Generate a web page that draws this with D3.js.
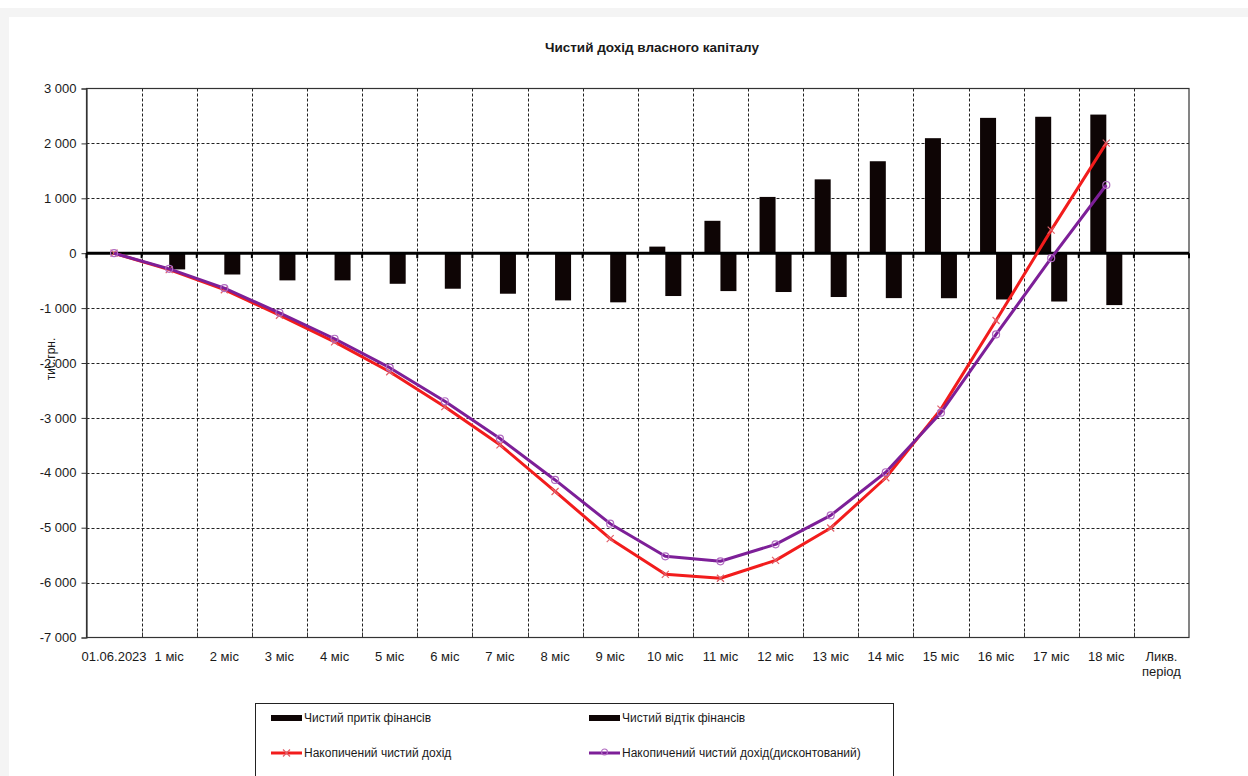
<!DOCTYPE html>
<html>
<head>
<meta charset="utf-8">
<script src="https://cdn.jsdelivr.net/npm/d3@7"></script>
<style>
  body { margin: 0; background: #fff; }
  svg { display: block; font-family: "Liberation Sans", Arial, sans-serif; }
</style>
</head>
<body>
<svg id="chart" width="1248" height="776"></svg>
<script>
// Periods of the project
const categories = ["01.06.2023", "1 міс", "2 міс", "3 міс", "4 міс", "5 міс", "6 міс", "7 міс", "8 міс", "9 міс",
  "10 міс", "11 міс", "12 міс", "13 міс", "14 міс", "15 міс", "16 міс", "17 міс", "18 міс", "Ликв.\nперіод"];

// Net inflow / outflow per period, thousand UAH
const inflow = [0, 0, 0, 0, 0, 0, 0, 0, 0, 0, 120, 590, 1025, 1345, 1675, 2095, 2465, 2485, 2525, 0];
const outflow = [0, -295, -388, -495, -495, -557, -647, -738, -860, -895, -780, -690, -707, -798, -818, -820, -843, -880, -945, 0];

// Accumulated net income (plain and discounted), thousand UAH
const accumulated = [0, -300, -665, -1130, -1615, -2160, -2795, -3490, -4340, -5200, -5850, -5920, -5595, -5005, -4090, -2840, -1225, 420, 2005];
const discounted = [0, -285, -636, -1085, -1558, -2085, -2697, -3376, -4130, -4927, -5521, -5612, -5303, -4776, -3990, -2905, -1479, -91, 1242];

const yTicks = [3000, 2000, 1000, 0, -1000, -2000, -3000, -4000, -5000, -6000, -7000];

const chartTitle = "Чистий дохід власного капіталу";
const yTitle = "тис.грн.";
const seriesNames = ["Чистий притік фінансів", "Чистий відтік фінансів", "Накопичений чистий дохід", "Накопичений чистий дохід(дисконтований)"];

const BAR = "#0e0505", RED = "#f21c1c", PURPLE = "#7d1f98", INK = "#1a1a1a";

const svg = d3.select("#chart");

// faint frame of the sheet
svg.append("rect").attr("x", 0).attr("y", 8).attr("width", 1248).attr("height", 9).attr("fill", "#f4f4f4");
svg.append("rect").attr("x", 0).attr("y", 8).attr("width", 9).attr("height", 768).attr("fill", "#f4f4f4");

const plot = { left: 86.5, right: 1189, top: 88.5, bottom: 637.5 };

const x = d3.scaleBand().domain(categories).range([plot.left, plot.right]).padding(0);
const bw = x.bandwidth();
const y = d3.scaleLinear().domain([-7000, 3000]).range([plot.bottom, plot.top]);
const barW = 16;
const sub = d3.scaleBand().domain(["in", "out"]).range([bw / 2 - barW, bw / 2 + barW]).padding(0);

const fmt = d3.formatLocale({ decimal: ",", thousands: " ", grouping: [3], currency: ["", ""], minus: "-" }).format(",");

// title
svg.append("text").attr("x", 652).attr("y", 52).attr("text-anchor", "middle")
  .attr("font-size", 13.5).attr("font-weight", "bold").attr("fill", INK).text(chartTitle);

// horizontal grid
svg.append("g").selectAll("line").data(yTicks.filter(v => v !== 3000 && v !== -7000)).join("line")
  .attr("x1", plot.left).attr("x2", plot.right)
  .attr("y1", d => Math.round(y(d)) + 0.5).attr("y2", d => Math.round(y(d)) + 0.5)
  .attr("stroke", "#222").attr("stroke-width", 1).attr("stroke-dasharray", "3,2");

// vertical grid at category boundaries
svg.append("g").selectAll("line").data(categories.slice(1)).join("line")
  .attr("x1", d => Math.round(x(d)) + 0.5).attr("x2", d => Math.round(x(d)) + 0.5)
  .attr("y1", plot.top).attr("y2", plot.bottom)
  .attr("stroke", "#222").attr("stroke-width", 1).attr("stroke-dasharray", "3,2");

// plot frame
svg.append("rect").attr("x", plot.left).attr("y", plot.top)
  .attr("width", plot.right - plot.left).attr("height", plot.bottom - plot.top)
  .attr("fill", "none").attr("stroke", "#333").attr("stroke-width", 1.2);

// y axis
const yAxis = d3.axisLeft(y).tickValues(yTicks).tickSize(5).tickPadding(5).tickFormat(fmt);
const gy = svg.append("g").attr("transform", `translate(${plot.left},0)`).call(yAxis);
gy.select(".domain").attr("stroke", "#333").attr("stroke-width", 1.2);
gy.selectAll(".tick line").attr("stroke", "#333");
gy.selectAll(".tick text").attr("font-size", 13).attr("fill", INK)
  .attr("font-family", "Liberation Sans, Arial, sans-serif");

// y axis title
svg.append("text").attr("transform", `translate(55,${(plot.top + plot.bottom) / 2 - 4}) rotate(-90)`)
  .attr("text-anchor", "middle").attr("font-size", 12).attr("fill", INK).text(yTitle);

// bottom category labels
const xl = svg.append("g").selectAll("text").data(categories).join("text")
  .attr("x", d => x(d) + bw / 2).attr("y", 661).attr("text-anchor", "middle")
  .attr("font-size", 13).attr("fill", INK);
xl.each(function (d) {
  const parts = d.split("\n");
  d3.select(this).selectAll("tspan").data(parts).join("tspan")
    .attr("x", x(d) + bw / 2).attr("dy", (p, i) => i === 0 ? 0 : 15).text(p => p);
});

// bottom ticks
svg.append("g").selectAll("line").data(categories.slice(1)).join("line")
  .attr("x1", d => Math.round(x(d)) + 0.5).attr("x2", d => Math.round(x(d)) + 0.5)
  .attr("y1", plot.bottom - 5).attr("y2", plot.bottom)
  .attr("stroke", "#333");

// bars
const bars = svg.append("g");
bars.selectAll("rect.in").data(inflow.map((v, i) => ({ v, c: categories[i] })).filter(d => d.v !== 0)).join("rect")
  .attr("class", "in")
  .attr("x", d => x(d.c) + sub("in")).attr("width", sub.bandwidth())
  .attr("y", d => y(Math.max(0, d.v))).attr("height", d => Math.abs(y(d.v) - y(0)))
  .attr("fill", BAR);
bars.selectAll("rect.out").data(outflow.map((v, i) => ({ v, c: categories[i] })).filter(d => d.v !== 0)).join("rect")
  .attr("class", "out")
  .attr("x", d => x(d.c) + sub("out")).attr("width", sub.bandwidth())
  .attr("y", d => y(Math.max(0, d.v))).attr("height", d => Math.abs(y(d.v) - y(0)))
  .attr("fill", BAR);

// zero axis with its ticks
svg.append("line").attr("x1", plot.left).attr("x2", plot.right)
  .attr("y1", y(0)).attr("y2", y(0)).attr("stroke", "#000").attr("stroke-width", 3);
svg.append("g").selectAll("line").data(categories.concat(["__end"])).join("line")
  .attr("x1", (d, i) => plot.left + i * bw).attr("x2", (d, i) => plot.left + i * bw)
  .attr("y1", y(0)).attr("y2", y(0) + 5)
  .attr("stroke", "#000").attr("stroke-width", 2);

// accumulated lines
const line = d3.line().x((d, i) => x(categories[i]) + bw / 2).y(d => y(d));

svg.append("path").datum(accumulated).attr("d", line)
  .attr("fill", "none").attr("stroke", RED).attr("stroke-width", 3).attr("stroke-linejoin", "round");
svg.append("g").selectAll("path").data(accumulated).join("path")
  .attr("transform", (d, i) => `translate(${x(categories[i]) + bw / 2},${y(d)})`)
  .attr("d", "M-3.5,-3.5L3.5,3.5M-3.5,3.5L3.5,-3.5")
  .attr("stroke", "#e0606a").attr("stroke-width", 1.2).attr("fill", "none");

svg.append("path").datum(discounted).attr("d", line)
  .attr("fill", "none").attr("stroke", PURPLE).attr("stroke-width", 3).attr("stroke-linejoin", "round");
svg.append("g").selectAll("circle").data(discounted).join("circle")
  .attr("cx", (d, i) => x(categories[i]) + bw / 2).attr("cy", d => y(d)).attr("r", 3.5)
  .attr("stroke", "#b06ac0").attr("stroke-width", 1.2).attr("fill", "none");

// legend
const lg = svg.append("g");
lg.append("rect").attr("x", 255.5).attr("y", 703.5).attr("width", 638).attr("height", 80)
  .attr("fill", "#fff").attr("stroke", "#222").attr("stroke-width", 1);

const legendItems = [
  { name: seriesNames[0], kind: "bar", x: 271, y: 718 },
  { name: seriesNames[1], kind: "bar", x: 589, y: 718 },
  { name: seriesNames[2], kind: "red", x: 271, y: 753 },
  { name: seriesNames[3], kind: "purple", x: 589, y: 753 }
];
legendItems.forEach(it => {
  const g = lg.append("g").attr("transform", `translate(${it.x},${it.y})`);
  if (it.kind === "bar") {
    g.append("rect").attr("x", 0).attr("y", -3).attr("width", 31).attr("height", 6).attr("fill", BAR);
  } else if (it.kind === "red") {
    g.append("line").attr("x1", 0).attr("x2", 31).attr("stroke", RED).attr("stroke-width", 3);
    g.append("path").attr("transform", "translate(15.5,0)").attr("d", "M-3.5,-3.5L3.5,3.5M-3.5,3.5L3.5,-3.5")
      .attr("stroke", "#e0606a").attr("stroke-width", 1.2);
  } else {
    g.append("line").attr("x1", 0).attr("x2", 31).attr("stroke", PURPLE).attr("stroke-width", 3);
    g.append("circle").attr("cx", 15.5).attr("cy", -1).attr("r", 3).attr("stroke", "#b06ac0")
      .attr("stroke-width", 1.2).attr("fill", "none");
  }
  g.append("text").attr("x", 33).attr("y", 4).attr("font-size", 12).attr("fill", INK).text(it.name);
});
</script>
</body>
</html>
